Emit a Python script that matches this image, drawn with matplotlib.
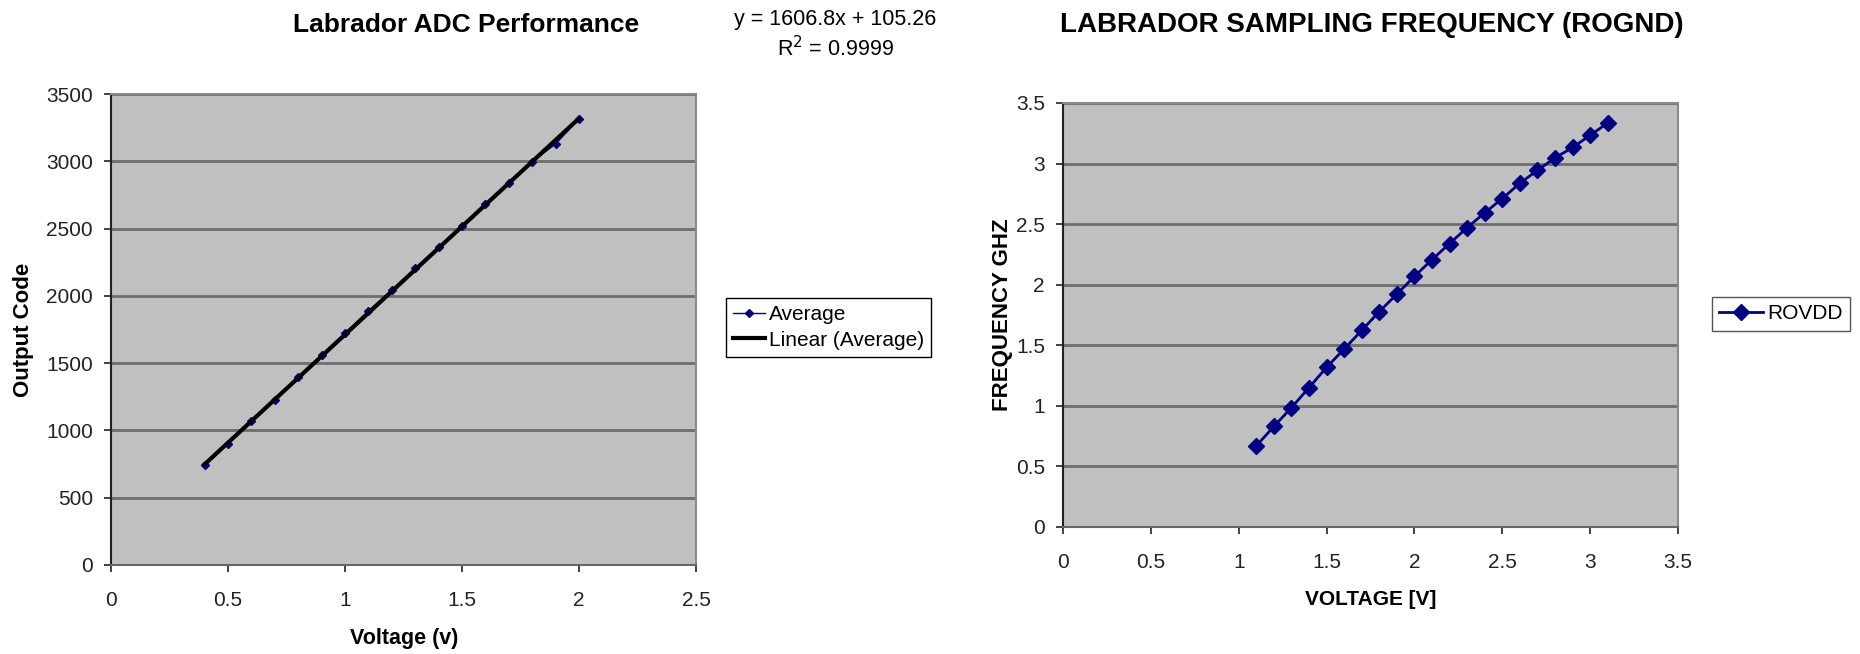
import numpy as np
import matplotlib
matplotlib.use('Agg')
import matplotlib.pyplot as plt
from matplotlib.ticker import FormatStrFormatter

plt.rcParams['font.family'] = ['Liberation Sans', 'DejaVu Sans']

# ADC chart data
adc_volt = [0.4, 0.5, 0.6, 0.7, 0.8, 0.9, 1.0, 1.1, 1.2, 1.3, 1.4, 1.5, 1.6, 1.7, 1.8, 1.9, 2.0]
adc_code = [740, 901, 1068, 1229, 1396, 1560, 1724, 1888, 2043, 2204, 2365, 2519, 2686, 2841, 2996, 3129, 3314]
fit_slope = 1606.8
fit_intercept = 105.26
fit_r2 = 0.9999

# sampling frequency chart data
freq_volt = [1.1, 1.2, 1.3, 1.4, 1.5, 1.6, 1.7, 1.8, 1.9, 2.0, 2.1,
             2.2, 2.3, 2.4, 2.5, 2.6, 2.7, 2.8, 2.9, 3.0, 3.1]
freq_ghz = [0.67, 0.83, 0.985, 1.15, 1.318, 1.469, 1.623, 1.778, 1.922, 2.069, 2.207,
            2.34, 2.471, 2.594, 2.711, 2.838, 2.944, 3.047, 3.133, 3.233, 3.336]

navy = '#000080'
bg = '#c0c0c0'
grid_c = '#6e6e6e'

fig = plt.figure(figsize=(18.6, 6.54), dpi=100)
W, H = 1860.0, 654.0


def axes_px(x0, y0, x1, y1):
    return fig.add_axes([x0 / W, 1 - y1 / H, (x1 - x0) / W, (y1 - y0) / H])


def style_axes(ax):
    ax.set_facecolor(bg)
    ax.grid(axis='y', color=grid_c, linewidth=2)
    ax.set_axisbelow(True)
    ax.spines['top'].set_color('#8a8a8a')
    ax.spines['right'].set_color('#8a8a8a')
    ax.spines['left'].set_color('#222222')
    ax.spines['bottom'].set_color('#666666')
    for s in ax.spines.values():
        s.set_linewidth(1.5)
    ax.tick_params(axis='both', direction='out', length=5, width=1.2, labelsize=15, colors='#222222')
    ax.tick_params(axis='x', pad=14)
    ax.tick_params(axis='y', pad=8)


# left chart
ax1 = axes_px(111, 94, 696, 565)
style_axes(ax1)
ax1.plot(adc_volt, adc_code, color=navy, marker='D', markersize=4, linewidth=1, label='Average', zorder=3)
xs = np.array([adc_volt[0], adc_volt[-1]])
ax1.plot(xs, fit_slope * xs + fit_intercept, color='black', linewidth=3, label='Linear (Average)', zorder=4)
ax1.set_xlim(0, 2.5)
ax1.set_ylim(0, 3500)
ax1.set_xticks(np.arange(0, 2.51, 0.5))
ax1.set_yticks(np.arange(0, 3501, 500))
ax1.xaxis.set_major_formatter(FormatStrFormatter('%g'))
ax1.set_xlabel('Voltage (v)', fontsize=15.5, fontweight='bold')
ax1.set_ylabel('Output Code', fontsize=16, fontweight='bold')
ax1.xaxis.set_label_coords(0.501, -0.155)
ax1.xaxis.label.set_va('center')
ax1.yaxis.set_label_coords(-0.149, 0.5)
ax1.yaxis.label.set_va('center')
ax1.legend(loc='upper left', bbox_to_anchor=(726 / W, 1 - 298 / H), bbox_transform=fig.transFigure,
           fancybox=False, edgecolor='black', framealpha=1, fontsize=15, handlelength=1.5,
           handletextpad=0.2, borderpad=0.35, labelspacing=0.3, borderaxespad=0)

fig.text(466 / W, 1 - 25 / H, 'Labrador ADC Performance', fontsize=19, fontweight='bold',
         ha='center', va='center')
fig.text(835 / W, 1 - 19 / H, 'y = %.1fx + %.2f' % (fit_slope, fit_intercept), fontsize=15.5,
         ha='center', va='center')
fig.text(836 / W, 1 - 49 / H, 'R$^2$ = %.4f' % fit_r2, fontsize=15.5, ha='center', va='center')

# right chart
ax2 = axes_px(1063, 103, 1678, 527)
style_axes(ax2)
ax2.plot(freq_volt, freq_ghz, color=navy, marker='D', markersize=8, linewidth=2, label='ROVDD')
ax2.set_xlim(0, 3.5)
ax2.set_ylim(0, 3.5)
ax2.set_xticks(np.arange(0, 3.51, 0.5))
ax2.set_yticks(np.arange(0, 3.51, 0.5))
ax2.xaxis.set_major_formatter(FormatStrFormatter('%g'))
ax2.yaxis.set_major_formatter(FormatStrFormatter('%g'))
ax2.set_xlabel('VOLTAGE [V]', fontsize=15, fontweight='bold')
ax2.set_ylabel('FREQUENCY GHZ', fontsize=16, fontweight='bold')
ax2.xaxis.set_label_coords(0.50, -0.172)
ax2.xaxis.label.set_va('center')
ax2.yaxis.set_label_coords(-0.098, 0.5)
ax2.yaxis.label.set_va('center')
ax2.legend(loc='upper left', bbox_to_anchor=(1712 / W, 1 - 297 / H), bbox_transform=fig.transFigure,
           fancybox=False, edgecolor='#555555', framealpha=1, fontsize=15, handlelength=2.1,
           handletextpad=0.2, borderpad=0.35, borderaxespad=0)

fig.text(1372 / W, 1 - 25 / H, 'LABRADOR SAMPLING FREQUENCY (ROGND)', fontsize=20, fontweight='bold',
         ha='center', va='center')

fig.savefig('out.png', dpi=100, facecolor='white')
